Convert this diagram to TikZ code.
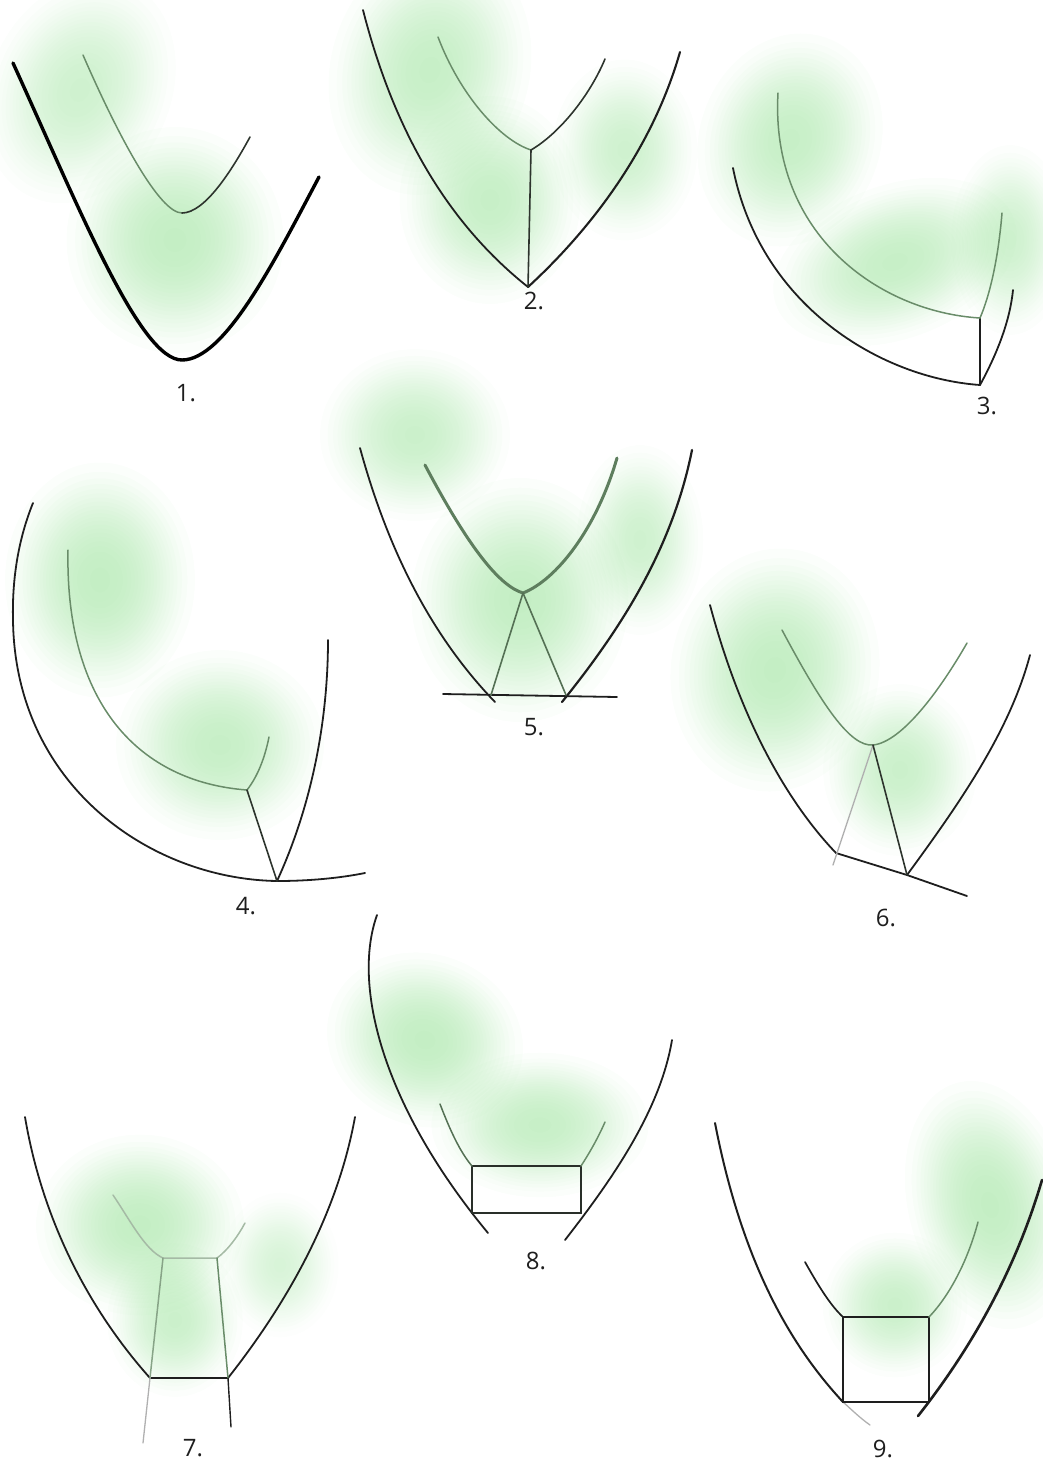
\documentclass[tikz,border=0pt]{standalone}
\usepackage{fontspec}
\setmainfont{Open Sans}
\definecolor{glowc}{RGB}{160,228,160}
\definecolor{inkc}{RGB}{30,30,30}
\definecolor{softc}{RGB}{105,140,105}
% raised-cosine soft blob: cx, cy, rx, ry, angle, opacity per step
\newcommand\myglow[6]{%
  \foreach \k in {1,...,22}{%
    \pgfmathsetmacro\gf{acos(2*(\k-0.5)/22-1)/180}%
    \fill[glowc, fill opacity=#6, rotate around={#5:(#1,#2)}] (#1,#2) ellipse ({#3*\gf} and {#4*\gf});%
  }%
}
\tikzset{
  outer/.style={draw=inkc, line width=1.8pt, line cap=round},
  thick outer/.style={draw=black, line width=3.4pt, line cap=round},
  inner/.style={draw=softc, line width=1.5pt, line cap=round},
  darkin/.style={draw=inkc!80!softc, line width=1.6pt, line cap=round},
  faint/.style={draw=inkc!35, line width=1.3pt, line cap=round},
  lbl/.style={font=\fontsize{24}{28}\selectfont, text=inkc, inner sep=0pt}
}
\begin{document}
\begin{tikzpicture}[x=1pt, y=-1pt]
\useasboundingbox (0,0) rectangle (1042,1465);
% ---------- glows ----------
% 1
\myglow{80}{90}{100}{130}{-25}{0.03}
\myglow{175}{240}{120}{125}{0}{0.045}
% 2
\myglow{430}{70}{110}{140}{-15}{0.04}
\myglow{490}{200}{100}{115}{0}{0.04}
\myglow{625}{150}{80}{100}{0}{0.03}
% 3
\myglow{790}{140}{100}{120}{-20}{0.04}
\myglow{895}{262}{140}{85}{20}{0.04}
\myglow{1010}{240}{65}{105}{0}{0.03}
% 4
\myglow{100}{580}{105}{130}{0}{0.045}
\myglow{220}{745}{115}{105}{0}{0.04}
% 5
\myglow{415}{435}{105}{95}{0}{0.035}
\myglow{520}{600}{120}{135}{0}{0.045}
\myglow{640}{540}{70}{105}{0}{0.03}
% 6
\myglow{775}{670}{115}{135}{-10}{0.045}
\myglow{900}{770}{85}{95}{0}{0.035}
% 7
\myglow{140}{1225}{115}{100}{0}{0.045}
\myglow{175}{1320}{75}{85}{0}{0.035}
\myglow{280}{1265}{65}{80}{0}{0.025}
% 8
\myglow{425}{1040}{110}{95}{-20}{0.045}
\myglow{540}{1125}{120}{80}{0}{0.04}
% 9
\myglow{990}{1205}{90}{140}{15}{0.045}
\myglow{895}{1305}{80}{80}{0}{0.035}
% ---------- panel 1 ----------
\coordinate (a1) at (13,63);
\coordinate (b1) at (182,360);
\coordinate (c1) at (319,177);
\draw[thick outer] (a1) .. controls (80,210) and (140,360) .. (b1) .. controls (225,360) and (275,260) .. (c1);
\coordinate (d1) at (83,55);
\coordinate (e1) at (182,213);
\coordinate (f1) at (250,137);
\draw[inner] (d1) .. controls (120,140) and (160,213) .. (e1);
\draw[darkin] (e1) .. controls (205,213) and (232,170) .. (f1);
\node[lbl] (l1) at (186,393) {1.};
% ---------- panel 2 ----------
\coordinate (a2) at (363,10);
\coordinate (b2) at (528,287);
\coordinate (c2) at (680,52);
\coordinate (j2) at (531,150);
\coordinate (d2) at (438,37);
\coordinate (f2) at (605,59);
\draw[outer] (a2) .. controls (395,135) and (450,225) .. (b2);
\draw[outer, line width=2.1pt] (b2) .. controls (590,230) and (652,150) .. (c2);
\draw[inner] (d2) .. controls (460,95) and (500,140) .. (j2);
\draw[darkin] (j2) .. controls (560,133) and (590,95) .. (f2);
\draw[darkin] (j2) -- (b2);
\node[lbl] (l2) at (534,301) {2.};
% ---------- panel 3 ----------
\coordinate (a3) at (733,168);
\coordinate (b3) at (980,385);
\coordinate (c3) at (1013,290);
\coordinate (j3) at (980,318);
\coordinate (d3) at (778,93);
\coordinate (f3) at (1002,213);
\draw[outer] (a3) .. controls (760,305) and (880,378) .. (b3);
\draw[outer] (b3) .. controls (998,352) and (1010,320) .. (c3);
\draw[outer] (b3) -- (j3);
\draw[inner] (d3) .. controls (770,235) and (880,312) .. (j3);
\draw[inner] (j3) .. controls (992,290) and (999,250) .. (f3);
\node[lbl] (l3) at (987,406) {3.};
% ---------- panel 4 ----------
\coordinate (a4) at (33,503);
\coordinate (m4) at (13,620);
\coordinate (b4) at (277,881);
\coordinate (c4) at (365,873);
\coordinate (g4) at (328,640);
\coordinate (d4) at (68,550);
\coordinate (j4) at (247,790);
\coordinate (f4) at (269,737);
\draw[outer] (a4) .. controls (18,540) and (12,580) .. (m4) .. controls (15,785) and (150,879) .. (b4) .. controls (310,881) and (340,878) .. (c4);
\draw[outer] (b4) .. controls (312,805) and (328,720) .. (g4);
\draw[inner] (d4) .. controls (65,705) and (140,782) .. (j4);
\draw[inner] (j4) .. controls (258,776) and (265,757) .. (f4);
\draw[darkin] (j4) -- (b4);
\node[lbl] (l4) at (246,906) {4.};
% ---------- panel 5 ----------
\coordinate (a5) at (360,448);
\coordinate (b5) at (491,695);
\coordinate (c5) at (566,695);
\coordinate (g5) at (692,450);
\coordinate (h5) at (443,694);
\coordinate (k5) at (617,697);
\coordinate (d5) at (425,465);
\coordinate (j5) at (523,593);
\coordinate (f5) at (617,458);
\draw[outer] (a5) .. controls (392,565) and (440,645) .. (495,702);
\draw[outer, line width=2.2pt] (562,702) .. controls (620,630) and (672,550) .. (g5);
\draw[outer] (h5) -- (k5);
\draw[inner, line width=3pt, draw=softc!90!black] (d5) .. controls (470,550) and (500,586) .. (j5) .. controls (556,580) and (596,530) .. (f5);
\draw[darkin, draw=softc!80!black] (j5) -- (b5);
\draw[darkin, draw=softc!80!black] (j5) -- (c5);
\node[lbl] (l5) at (534,727) {5.};
% ---------- panel 6 ----------
\coordinate (a6) at (710,605);
\coordinate (b6) at (836,853);
\coordinate (c6) at (907,875);
\coordinate (e6) at (967,896);
\coordinate (g6) at (1030,655);
\coordinate (j6) at (873,745);
\coordinate (d6) at (782,630);
\coordinate (f6) at (967,643);
\coordinate (z6) at (833,865);
\draw[outer] (a6) .. controls (742,725) and (790,805) .. (b6);
\draw[outer] (b6) -- (c6) -- (e6);
\draw[outer] (c6) .. controls (962,800) and (1010,730) .. (g6);
\draw[inner] (d6) .. controls (822,705) and (850,747) .. (j6) .. controls (902,742) and (940,690) .. (f6);
\draw[faint] (j6) -- (z6);
\draw[darkin] (j6) -- (c6);
\node[lbl] (l6) at (886,918) {6.};
% ---------- panel 7 ----------
\coordinate (a7) at (25,1117);
\coordinate (b7) at (150,1378);
\coordinate (c7) at (228,1378);
\coordinate (g7) at (355,1117);
\coordinate (d7) at (113,1195);
\coordinate (p7) at (163,1258);
\coordinate (q7) at (217,1258);
\coordinate (f7) at (245,1223);
\coordinate (y7) at (143,1443);
\coordinate (z7) at (231,1427);
\draw[outer] (a7) .. controls (45,1235) and (100,1322) .. (b7) -- (c7) .. controls (280,1312) and (336,1222) .. (g7);
\draw[inner, draw=softc!60] (d7) .. controls (130,1220) and (145,1250) .. (p7) -- (q7) .. controls (228,1250) and (238,1236) .. (f7);
\draw[inner, draw=softc!80] (p7) -- (b7);
\draw[faint] (b7) -- (y7);
\draw[inner] (q7) -- (c7);
\draw[outer, line width=1.4pt] (c7) -- (z7);
\node[lbl] (l7) at (193,1448) {7.};
% ---------- panel 8 ----------
\coordinate (a8) at (377,915);
\coordinate (b8) at (488,1233);
\coordinate (c8) at (565,1240);
\coordinate (g8) at (672,1040);
\coordinate (r1) at (472,1166);
\coordinate (r2) at (581,1166);
\coordinate (r3) at (581,1213);
\coordinate (r4) at (472,1213);
\coordinate (d8) at (440,1104);
\coordinate (f8) at (605,1122);
\draw[outer] (a8) .. controls (352,985) and (382,1105) .. (b8);
\draw[outer] (c8) .. controls (610,1182) and (660,1112) .. (g8);
\draw[outer, draw=inkc!85!softc] (r1) -- (r2) -- (r3) -- (r4) -- cycle;
\draw[inner, draw=softc!80!black] (d8) .. controls (450,1130) and (460,1152) .. (r1);
\draw[inner] (r2) .. controls (590,1152) and (598,1138) .. (f8);
\node[lbl] (l8) at (536,1261) {8.};
% ---------- panel 9 ----------
\coordinate (a9) at (715,1123);
\coordinate (b9) at (870,1425);
\coordinate (c9) at (918,1416);
\coordinate (g9) at (1042,1180);
\coordinate (s1) at (843,1317);
\coordinate (s2) at (929,1317);
\coordinate (s3) at (929,1402);
\coordinate (s4) at (843,1402);
\coordinate (d9) at (805,1262);
\coordinate (f9) at (978,1222);
\draw[outer, line width=2pt] (a9) .. controls (742,1262) and (790,1345) .. (s4);
\draw[faint] (s4) .. controls (852,1410) and (860,1418) .. (b9);
\draw[outer, line width=2.6pt] (c9) .. controls (962,1360) and (1012,1282) .. (g9);
\draw[outer, line width=1.7pt] (s1) -- (s2) -- (s3) -- (s4) -- cycle;
\draw[outer, line width=1.7pt] (d9) .. controls (818,1285) and (830,1305) .. (s1);
\draw[inner] (s2) .. controls (950,1295) and (968,1260) .. (f9);
\node[lbl] (l9) at (883,1449) {9.};
\end{tikzpicture}
\end{document}
